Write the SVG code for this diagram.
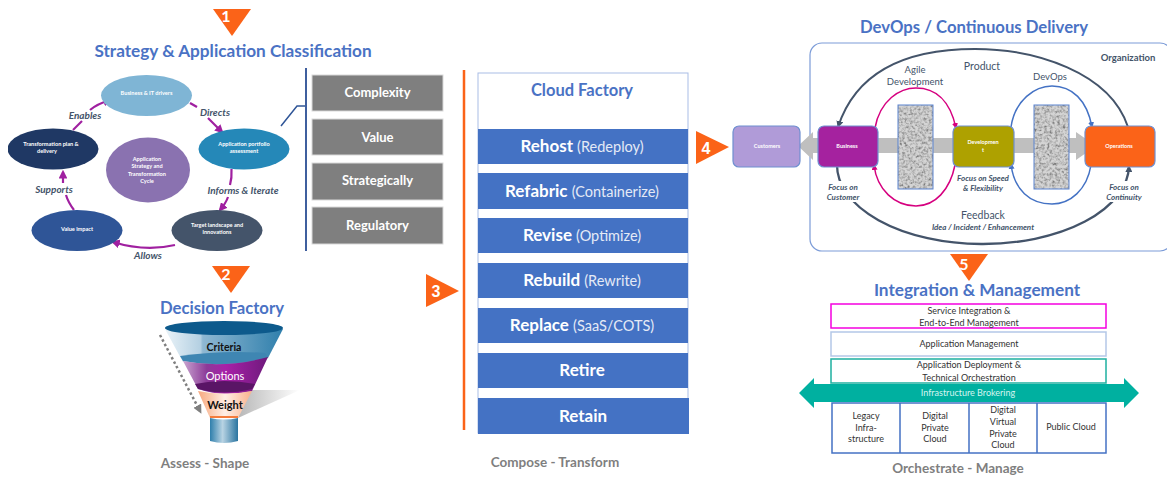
<svg xmlns="http://www.w3.org/2000/svg" width="1167" height="481" viewBox="0 0 1167 481">
<style>
text{font-family:Lato,"Liberation Sans",sans-serif;text-anchor:middle}
.h{font-size:17.2px;font-weight:700;fill:#4a72c4}
.foot{font-size:13.5px;font-weight:700;fill:#7f7f7f}
.num{font-size:16px;font-weight:700;fill:#fff}
.tri{fill:#fb6318}
.cyc{font-size:5.6px;font-weight:700;fill:#fff}
.lab{font-size:10px;font-weight:700;font-style:italic;fill:#44546a}
.gb{fill:#7f7f7f;stroke:#d9d9d9;stroke-width:1}
.gt{font-size:13px;font-weight:700;fill:#fff}
.bar{fill:#4472c4}
.bt{font-size:17px;font-weight:700;fill:#fff}
.bs{font-size:14.5px;font-weight:400;fill:#e4eaf6}
.d{font-size:9.5px;fill:#44546a}
.di{font-size:8px;font-style:italic;font-weight:700;fill:#44546a}
.box{font-size:5.5px;font-weight:700;fill:#fff}
.im{font-size:9px;fill:#333}
.arc{fill:none;stroke:#a020a0;stroke-width:2.2}
.end{marker-end:url(#mp)}
.noise{fill:#d4d4d4;filter:url(#noise)}
.nb{fill:none;stroke:#5b83d0}
</style>
<defs>
<marker id="mp" markerWidth="4" markerHeight="4" refX="3" refY="2" orient="auto"><path d="M0 0L4 2L0 4z" fill="#a020a0"/></marker>
<marker id="mk" markerWidth="7" markerHeight="7" refX="6" refY="3.5" orient="auto" markerUnits="userSpaceOnUse"><path d="M0 0L7 3.5L0 7z" fill="#44546a"/></marker>
<marker id="mm" markerWidth="6" markerHeight="6" refX="5" refY="3" orient="auto" markerUnits="userSpaceOnUse"><path d="M0 0L6 3L0 6z" fill="#d6007f"/></marker>
<marker id="mb" markerWidth="6" markerHeight="6" refX="5" refY="3" orient="auto" markerUnits="userSpaceOnUse"><path d="M0 0L6 3L0 6z" fill="#4472c4"/></marker>
<marker id="mg" markerWidth="9" markerHeight="9" refX="6" refY="4.5" orient="auto" markerUnits="userSpaceOnUse"><path d="M0 0L9 4.5L0 9z" fill="#7f7f7f"/></marker>
<filter id="noise" x="0" y="0" width="100%" height="100%"><feTurbulence type="fractalNoise" baseFrequency="0.38" numOctaves="2" seed="4"/><feColorMatrix values="0 0 0 0 .2 0 0 0 0 .2 0 0 0 0 .2 1.6 1.6 0 0 -1.35"/><feComposite in2="SourceGraphic" operator="in" result="n"/><feMerge><feMergeNode in="SourceGraphic"/><feMergeNode in="n"/></feMerge></filter>
<linearGradient id="f1" x1="0" x2="1" y1="0" y2="0"><stop offset="0" stop-color="#eaf3f8"/><stop offset=".3" stop-color="#b4d0e2"/><stop offset=".32" stop-color="#8fb8d2"/><stop offset="1" stop-color="#2f7fac"/></linearGradient>
<linearGradient id="f2" x1="0" x2="1" y1="0" y2="0"><stop offset="0" stop-color="#c9a5d0"/><stop offset=".28" stop-color="#8c3a98"/><stop offset=".5" stop-color="#a820a8"/><stop offset="1" stop-color="#6e1a7c"/></linearGradient>
<linearGradient id="f3" x1="0" x2="1" y1="0" y2="0"><stop offset="0" stop-color="#f7a87e"/><stop offset=".5" stop-color="#ffeee4"/><stop offset="1" stop-color="#f9b28c"/></linearGradient>
<linearGradient id="f4" x1="0" x2="1" y1="0" y2="0"><stop offset="0" stop-color="#2f7fac"/><stop offset=".45" stop-color="#b8d3e3"/><stop offset="1" stop-color="#2a74a0"/></linearGradient>
<linearGradient id="sh" x1="0" x2="1" y1="0" y2="0"><stop offset="0" stop-color="#a6a6a6"/><stop offset="1" stop-color="#fff"/></linearGradient>
<clipPath id="leftclip"><rect x="8" y="0" width="200" height="481"/></clipPath>
</defs>

<g id="step1"><path class="tri" d="M213 9H251L232 36z"/><text class="num" x="226" y="22">1</text></g>
<text class="h" x="233" y="57">Strategy &amp; Application Classification</text>

<g id="connectors">
<path class="arc" d="M73 130L82 121"/>
<path class="arc end" d="M90 110Q97 104 110 100"/>
<path class="arc" d="M190 103L197 107"/>
<path class="arc end" d="M208 118L222 132"/>
<path class="arc" d="M231.500 169Q232 178 230 185"/>
<path class="arc end" d="M228 197Q226 203 220 210"/>
<path class="arc end" d="M175 245Q145 252 113 242"/>
<path class="arc" d="M74 210Q68 202 66 195"/>
<path class="arc end" d="M63 183L63 172"/>
<path d="M281 126L297 106H306" fill="none" stroke="#2f5597" stroke-width="1.500"/>
<path d="M306 68V251" stroke="#3f5f9e" stroke-width="2" fill="none"/>
<path d="M464 70V430" stroke="#fb6318" stroke-width="2.500" fill="none"/>
</g>

<g id="n-drivers"><ellipse cx="146.500" cy="95.500" rx="45.500" ry="20.500" fill="#7fb5d5"/><text class="cyc" x="146.500" y="95">Business &amp; IT drivers</text></g>
<g id="n-portfolio"><ellipse cx="244" cy="149" rx="45.500" ry="20.500" fill="#2588b8"/><text class="cyc" x="244" y="146">Application portfolio</text><text class="cyc" x="244" y="153">assessment</text></g>
<g id="n-target"><ellipse cx="217" cy="230.500" rx="45.500" ry="20.500" fill="#44546a"/><text class="cyc" x="217" y="227">Target landscape and</text><text class="cyc" x="217" y="234">innovations</text></g>
<g id="n-value"><ellipse cx="77" cy="230.500" rx="45.500" ry="20.500" fill="#2f5597"/><text class="cyc" x="77" y="231">Value impact</text></g>
<g id="n-plan"><ellipse cx="53" cy="149" rx="45.500" ry="20.500" fill="#1f3864" clip-path="url(#leftclip)"/><text class="cyc" x="51" y="146">Transformation plan &amp;</text><text class="cyc" x="47" y="153">delivery</text></g>
<g id="n-center"><ellipse cx="148" cy="170" rx="42" ry="32.500" fill="#8a72b0"/><text class="cyc" x="147" y="161">Application</text><text class="cyc" x="147" y="168">Strategy and</text><text class="cyc" x="147" y="176">Transformation</text><text class="cyc" x="147" y="183">Cycle</text></g>
<text class="lab" x="85" y="119">Enables</text><text class="lab" x="215" y="116">Directs</text><text class="lab" x="243" y="194">Informs &amp; Iterate</text><text class="lab" x="54" y="193">Supports</text><text class="lab" x="148" y="259">Allows</text>

<g id="g1"><rect class="gb" x="312" y="75" width="131" height="36"/><text class="gt" x="377.500" y="97">Complexity</text></g>
<g id="g2"><rect class="gb" x="312" y="119" width="131" height="36"/><text class="gt" x="377.500" y="142">Value</text></g>
<g id="g3"><rect class="gb" x="312" y="163" width="131" height="37"/><text class="gt" x="377.500" y="185">Strategically</text></g>
<g id="g4"><rect class="gb" x="312" y="207" width="131" height="37"/><text class="gt" x="377.500" y="230">Regulatory</text></g>

<g id="step2"><path class="tri" d="M212 266H250L231 293z"/><text class="num" x="226" y="280">2</text></g>
<text class="h" x="222" y="314" style="font-size:16.7px">Decision Factory</text>
<g id="funnel">
<path d="M244 390H300L238 418z" fill="url(#sh)" opacity=".8"/>
<path d="M165 329L183 362Q224 372 268 358L283 329z" fill="url(#f1)"/>
<path d="M183 361Q224 369 268 357L265 353Q224 350 180 356z" fill="#3f86b2"/>
<path d="M183 361Q224 369 268 357L252 391Q224 398 198 389z" fill="url(#f2)"/>
<path d="M198 389Q224 396 252 389L255 384Q224 378 195 384z" fill="#5a1566"/>
<path d="M198 391Q224 396 252 391L238 418H210z" fill="url(#f3)"/>
<path d="M210 416H238V418H210z" fill="#f47c3c"/>
<ellipse cx="224" cy="328" rx="59" ry="7" fill="#0d5a8c"/>
<path d="M210 418Q224 421 238 418V441Q224 445 210 441z" fill="url(#f4)"/>
<path d="M160 335L200 411" stroke="#7f7f7f" stroke-width="2.500" stroke-dasharray="2.500 2.500" fill="none" marker-end="url(#mg)"/>
<text x="224" y="351" font-size="10.500" font-weight="700" fill="#111">Criteria</text>
<text x="225" y="380" font-size="11" fill="#fff">Options</text>
<text x="225" y="409" font-size="11" font-weight="700" fill="#111">Weight</text>
</g>
<text class="foot" x="205" y="468">Assess - Shape</text>

<g id="step3"><path class="tri" d="M426 274L459 291L426 307z"/><text class="num" x="436" y="297" style="font-family:'Liberation Sans'">3</text></g>

<g id="cloud-factory">
<rect x="478" y="73" width="210" height="360" fill="#fff" stroke="#a9bde6"/>
<text x="582" y="96" font-size="16.500" font-weight="700" fill="#4a72c4">Cloud Factory</text>
<rect class="bar" x="478" y="129" width="210" height="35"/><text class="bt" x="582" y="152">Rehost <tspan class="bs">(Redeploy)</tspan></text>
<rect class="bar" x="478" y="173" width="210" height="36"/><text class="bt" x="582" y="197">Refabric <tspan class="bs">(Containerize)</tspan></text>
<rect class="bar" x="478" y="218" width="210" height="35"/><text class="bt" x="582" y="241">Revise <tspan class="bs">(Optimize)</tspan></text>
<rect class="bar" x="478" y="263" width="210" height="35"/><text class="bt" x="582" y="286">Rebuild <tspan class="bs">(Rewrite)</tspan></text>
<rect class="bar" x="478" y="308" width="210" height="35"/><text class="bt" x="582" y="331">Replace <tspan class="bs">(SaaS/COTS)</tspan></text>
<rect class="bar" x="478" y="353" width="210" height="35"/><text class="bt" x="582" y="376">Retire</text>
<rect class="bar" x="478" y="398" width="211" height="36"/><text class="bt" x="583" y="422">Retain</text>
</g>
<text class="foot" x="555" y="467">Compose - Transform</text>

<g id="step4"><path class="tri" d="M696 131L729 147L696 164z"/><text class="num" x="706" y="154" style="font-family:'Liberation Sans'">4</text></g>
<text class="h" x="974" y="33" style="font-size:16.7px">DevOps / Continuous Delivery</text>
<rect x="810" y="43" width="362" height="208" rx="12" fill="#fff" stroke="#7c9cd8" stroke-width="1.200"/>
<text class="d" x="1128" y="61" style="font-weight:700">Organization</text>

<g id="devops-connectors">
<path d="M798 146L813 132V138H1076V132L1096 146L1076 160V153H813V160z" fill="#bfbfbf"/>
<path d="M1128 127C1110 72 1035 49 975 49C900 49 855 75 838 127" fill="none" stroke="#44546a" stroke-width="2" marker-end="url(#mk)"/>
<path d="M837 164A146 79 0 0 0 1129 166" fill="none" stroke="#44546a" stroke-width="2.300" marker-end="url(#mk)"/>
<rect x="824" y="181" width="40" height="21" fill="#fff"/>
<rect x="1105" y="181" width="40" height="21" fill="#fff"/>
<path d="M875 128C880 100 900 88 916 88C935 88 950 100 956 128" fill="none" stroke="#d6007f" stroke-width="1.500" marker-end="url(#mm)"/>
<path d="M955 165C950 190 935 206 916 206C895 206 877 190 874 165" fill="none" stroke="#d6007f" stroke-width="1.500" marker-end="url(#mm)"/>
<path d="M1011 127C1015 100 1035 86 1052 86C1072 86 1087 100 1092 127" fill="none" stroke="#4472c4" stroke-width="1.500" marker-end="url(#mb)"/>
<path d="M1091 165C1087 190 1070 204 1052 204C1030 204 1014 190 1011 164" fill="none" stroke="#4472c4" stroke-width="1.500" marker-end="url(#mb)"/>
</g>
<rect class="noise" x="898" y="105" width="35" height="84"/><rect class="nb" x="898" y="105" width="35" height="84"/>
<rect class="noise" x="1034" y="105" width="35" height="84"/><rect class="nb" x="1034" y="105" width="35" height="84"/>
<g id="customers"><rect x="733" y="126" width="67" height="41" rx="6" fill="#b09bd8" stroke="#6f8fd0" stroke-width="1.200"/><text class="box" x="767" y="148">Customers</text></g>
<g id="business"><rect x="818" y="126" width="60" height="41" rx="6" fill="#a5229f" stroke="#6f8fd0" stroke-width="1.200"/><text class="box" x="847" y="148">Business</text></g>
<g id="development"><rect x="953" y="126" width="61" height="41" rx="6" fill="#aea100" stroke="#6f8fd0" stroke-width="1.200"/><text class="box" x="983" y="144">Developmen</text><text class="box" x="983" y="152">t</text></g>
<g id="operations"><rect x="1085" y="126" width="70" height="41" rx="6" fill="#fb6318" stroke="#6f8fd0" stroke-width="1.200"/><text class="box" x="1119" y="148">Operations</text></g>
<text class="d" x="982" y="70" style="font-size:10.500px">Product</text>
<text class="d" x="915" y="73">Agile</text><text class="d" x="915" y="85">Development</text>
<text class="d" x="1050" y="80">DevOps</text>
<text class="d" x="983" y="219" style="font-size:10.500px">Feedback</text>
<text class="di" x="983" y="230">Idea / Incident / Enhancement</text>
<text class="di" x="843" y="190">Focus on</text><text class="di" x="843" y="200">Customer</text>
<text class="di" x="983" y="181">Focus on Speed</text><text class="di" x="983" y="191">&amp; Flexibility</text>
<text class="di" x="1124" y="190">Focus on</text><text class="di" x="1124" y="200">Continuity</text>

<g id="step5"><path class="tri" d="M950 254H988L969 281z"/><text class="num" x="964" y="270">5</text></g>
<text class="h" x="977" y="296">Integration &amp; Management</text>
<g id="im1"><rect x="831" y="304" width="275" height="24" fill="#fff" stroke="#f500e0" stroke-width="1.500"/><text class="im" x="969" y="314">Service Integration &amp;</text><text class="im" x="969" y="326">End-to-End Management</text></g>
<g id="im2"><rect x="831" y="332" width="275" height="24" fill="#fff" stroke="#b4c7e7" stroke-width="1.500"/><text class="im" x="969" y="347">Application Management</text></g>
<g id="im3"><rect x="831" y="359" width="275" height="24" fill="#fff" stroke="#1eb0a0" stroke-width="1.500"/><text class="im" x="969" y="368">Application Deployment &amp;</text><text class="im" x="969" y="381">Technical Orchestration</text></g>
<g id="im4"><path d="M799 393L814 378V384H1124V378L1139 393L1124 408V402H814V408z" fill="#00b0a0"/><text x="968" y="396" font-size="9" fill="#d5f5f0">Infrastructure Brokering</text></g>
<g id="im5"><rect x="832" y="403" width="274" height="50" fill="#fff" stroke="#4472c4" stroke-width="1.500"/><path d="M900 403V453M969 403V453M1037 403V453" stroke="#4472c4" stroke-width="1.500"/>
<text class="im" x="866" y="419">Legacy</text><text class="im" x="866" y="431">Infra-</text><text class="im" x="866" y="442">structure</text>
<text class="im" x="935" y="419">Digital</text><text class="im" x="935" y="431">Private</text><text class="im" x="935" y="442">Cloud</text>
<text class="im" x="1003" y="413">Digital</text><text class="im" x="1003" y="425">Virtual</text><text class="im" x="1003" y="437">Private</text><text class="im" x="1003" y="448">Cloud</text>
<text class="im" x="1071" y="430">Public Cloud</text></g>
<text class="foot" x="958" y="473">Orchestrate - Manage</text>
</svg>
